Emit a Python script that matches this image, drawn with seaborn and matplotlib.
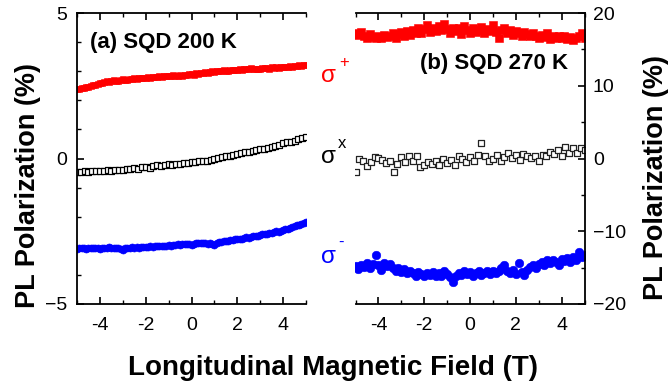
import numpy as np
import pandas as pd
import matplotlib
matplotlib.use("Agg")
import matplotlib.pyplot as plt
from matplotlib.ticker import MultipleLocator
import seaborn as sns

sns.set_style("ticks")
plt.rcParams['font.family'] = ['Liberation Sans', 'DejaVu Sans']
plt.rcParams['text.color'] = 'black'
plt.rcParams['axes.labelcolor'] = 'black'
plt.rcParams['xtick.color'] = 'black'
plt.rcParams['ytick.color'] = 'black'

# ---------------- data ----------------
# (a) SQD 200 K
field_a_dense = np.linspace(-5, 5, 101)
field_a_sparse = np.linspace(-5, 5, 61)
a_sigma_plus = [
    2.39, 2.40, 2.41, 2.43, 2.44, 2.46, 2.49, 2.51, 2.54, 2.56,
    2.60, 2.58, 2.62, 2.65, 2.63, 2.66, 2.69, 2.65, 2.68, 2.70,
    2.72, 2.70, 2.71, 2.74, 2.72, 2.75, 2.73, 2.76, 2.77, 2.75,
    2.78, 2.80, 2.77, 2.79, 2.81, 2.80, 2.82, 2.79, 2.83, 2.82,
    2.84, 2.83, 2.86, 2.84, 2.82, 2.87, 2.85, 2.88, 2.86, 2.89,
    2.90, 2.88, 2.93, 2.92, 2.95, 2.93, 2.96, 2.94, 2.97, 2.99,
    2.98, 3.00, 2.99, 3.01, 3.03, 3.00, 3.02, 3.04, 3.03, 3.05,
    3.04, 3.06, 3.05, 3.07, 3.06, 3.08, 3.10, 3.07, 3.09, 3.08,
    3.09, 3.11, 3.10, 3.12, 3.09, 3.13, 3.11, 3.14, 3.12, 3.15,
    3.15, 3.13, 3.16, 3.18, 3.16, 3.19, 3.17, 3.20, 3.19, 3.22, 3.23]
a_sigma_x = [
    -0.45, -0.45, -0.44, -0.45, -0.43, -0.44, -0.42, -0.43, -0.41, -0.42,
    -0.40, -0.41, -0.39, -0.36, -0.37, -0.33, -0.35, -0.30, -0.28, -0.31,
    -0.26, -0.24, -0.27, -0.22, -0.20, -0.22, -0.18, -0.19, -0.16, -0.15,
    -0.13, -0.12, -0.10, -0.08, -0.07, -0.04, -0.03, 0.01, 0.04, 0.07,
    0.09, 0.12, 0.15, 0.19, 0.21, 0.24, 0.26, 0.29, 0.32, 0.34,
    0.37, 0.41, 0.44, 0.47, 0.52, 0.55, 0.58, 0.61, 0.66, 0.69, 0.74]
a_sigma_minus = [
    -3.10, -3.08, -3.09, -3.07, -3.10, -3.08, -3.06, -3.09, -3.07, -3.08,
    -3.12, -3.08, -3.06, -3.08, -3.05, -3.07, -3.06, -3.09, -3.07, -3.10,
    -3.15, -3.09, -3.06, -3.08, -3.05, -3.06, -3.04, -3.06, -3.03, -3.05,
    -3.03, -3.04, -3.02, -3.03, -3.01, -3.02, -3.00, -3.02, -2.99, -3.00,
    -2.98, -3.00, -2.96, -2.97, -2.95, -2.96, -2.94, -2.95, -2.93, -2.94,
    -2.97, -2.93, -2.91, -2.92, -2.90, -2.92, -2.91, -2.93, -2.92, -2.94,
    -2.96, -2.92, -2.88, -2.86, -2.84, -2.85, -2.82, -2.80, -2.81, -2.78,
    -2.77, -2.75, -2.76, -2.73, -2.71, -2.72, -2.69, -2.67, -2.68, -2.65,
    -2.62, -2.60, -2.61, -2.58, -2.55, -2.56, -2.53, -2.50, -2.51, -2.48,
    -2.45, -2.43, -2.41, -2.38, -2.36, -2.33, -2.30, -2.27, -2.25, -2.21, -2.19]

# (b) SQD 270 K
field_b_dense = np.linspace(-5, 5, 81)
field_b_sparse = np.linspace(-5, 5, 61)
b_sigma_plus = [
    17.3, 17.0, 17.4, 16.9, 16.6, 17.1, 16.7, 16.5, 16.9, 16.6,
    17.0, 16.7, 16.9, 17.2, 16.6, 17.1, 17.4, 16.8, 17.5, 17.0,
    17.6, 17.2, 17.9, 17.3, 17.8, 18.3, 17.4, 17.9, 17.5, 18.2,
    17.6, 18.5, 17.8, 17.2, 18.0, 17.5, 17.9, 17.1, 18.2, 17.6,
    17.3, 17.9, 17.4, 17.7, 18.1, 17.2, 17.8, 17.5, 18.3, 17.4,
    16.6, 17.6, 17.9, 17.3, 17.7, 17.0, 17.5, 17.2, 16.9, 17.4,
    17.1, 16.8, 17.3, 16.9, 16.5, 17.0, 16.7, 17.2, 16.4, 16.8,
    16.6, 16.9, 16.5, 16.8, 16.4, 16.7, 16.3, 16.6, 16.9, 17.3, 16.5]
b_sigma_x = [
    -1.9, -0.1, -0.3, -1.0, -0.5, 0.2, 0.1, -0.2, -0.6, -0.4,
    -1.8, -0.8, 0.2, -0.5, 0.4, -0.3, 0.3, -1.2, -0.9, -0.5,
    -0.7, -0.3, -0.9, 0.0, -0.6, -0.2, -0.9, 0.4, -0.1, -0.5,
    0.2, -0.3, 0.5, 2.1, 0.3, -0.4, -0.1, 0.5, -0.3, 0.2,
    0.8, 0.1, 0.5, -0.2, 0.6, 0.3, 0.1, 0.4, -0.4, 0.5,
    0.3, 0.9, 0.6, 1.2, 0.4, 1.6, 0.8, 1.5, 0.7, 1.4, 1.1]
b_sigma_minus = [
    -14.8, -15.2, -14.6, -14.9, -14.4, -15.0, -14.5, -13.3, -14.7, -15.3,
    -14.4, -14.8, -14.5, -15.0, -15.4, -15.1, -15.6, -15.2, -15.8, -15.4,
    -15.7, -16.1, -15.6, -15.9, -16.2, -15.7, -16.0, -15.6, -16.2, -15.8,
    -16.1, -15.5, -15.9, -16.3, -17.0, -16.2, -15.7, -16.0, -15.5, -15.9,
    -15.6, -16.1, -15.8, -15.4, -16.0, -15.7, -15.5, -15.9, -15.4, -15.8,
    -15.5, -15.1, -14.6, -15.4, -15.7, -15.3, -15.9, -14.4, -15.6, -16.0,
    -15.3, -14.9, -14.6, -15.0, -14.5, -14.2, -14.6, -14.0, -14.3, -13.9,
    -14.2, -14.6, -13.8, -14.1, -13.7, -14.2, -13.6, -13.9, -12.9, -13.5, -13.3]

x_ticks = [-4, -2, 0, 2, 4]
x_tick_labels = ["-4", "-2", "0", "2", "4"]

# ---------------- figure ----------------
fig = plt.figure(figsize=(6.72, 3.88), dpi=100)
axa = fig.add_axes([77 / 672, 84 / 388, 229 / 672, 291 / 388])
axb = fig.add_axes([355.5 / 672, 84 / 388, 229 / 672, 291 / 388])

RED, BLUE, BLACK = "#FF0000", "#0000FF", "#000000"

# panel (a)
sns.scatterplot(x=field_a_dense, y=a_sigma_plus, ax=axa, marker="s", s=20,
                color=RED, edgecolor=RED, linewidth=0.4)
sns.scatterplot(x=field_a_sparse, y=a_sigma_x, ax=axa, marker="s", s=14,
                facecolor="white", edgecolor=BLACK, linewidth=0.9)
sns.scatterplot(x=field_a_dense, y=a_sigma_minus, ax=axa, marker="o", s=26,
                color=BLUE, edgecolor=BLUE, linewidth=0.4)

# panel (b)
sns.scatterplot(x=field_b_dense, y=b_sigma_plus, ax=axb, marker="s", s=28,
                color=RED, edgecolor=RED, linewidth=0.4)
sns.scatterplot(x=field_b_sparse, y=b_sigma_x, ax=axb, marker="s", s=20,
                facecolor="white", edgecolor="#222222", linewidth=0.9)
sns.scatterplot(x=field_b_dense, y=b_sigma_minus, ax=axb, marker="o", s=38,
                color=BLUE, edgecolor=BLUE, linewidth=0.4)

for ax in (axa, axb):
    ax.set_xlim(-5, 5)
    ax.set_xticks(x_ticks)
    ax.set_xticklabels(x_tick_labels)
    ax.xaxis.set_minor_locator(MultipleLocator(1))
    ax.set_xlabel("")
    ax.set_ylabel("")
    for sp in ax.spines.values():
        sp.set_linewidth(1.3)
        sp.set_color("black")
    ax.tick_params(axis="both", which="major", direction="in", length=5,
                   width=1.2, labelsize=14, colors="black")
    ax.tick_params(axis="both", which="minor", direction="in", length=3,
                   width=1.0)
    ax.tick_params(axis="x", which="both", top=True, pad=9)
    ax.set_facecolor("white")

axa.set_ylim(-5, 5)
axa.set_yticks([-5, 0, 5])
axa.yaxis.set_minor_locator(MultipleLocator(1))
axa.spines["right"].set_visible(False)
axa.tick_params(axis="y", which="both", left=True, right=False, pad=7)

axb.set_ylim(-20, 20)
axb.set_yticks([-20, -10, 0, 10, 20])
axb.yaxis.set_minor_locator(MultipleLocator(5))
axb.spines["left"].set_visible(False)
axb.yaxis.tick_right()
axb.tick_params(axis="y", which="both", left=False, right=True,
                labelleft=False, labelright=True, pad=6)

axa.text(0.057, 0.897, "(a) SQD 200 K", transform=axa.transAxes,
         fontsize=16, fontweight="bold", ha="left", va="center", color="black")
axb.text(0.928, 0.825, "(b) SQD 270 K", transform=axb.transAxes,
         fontsize=16, fontweight="bold", ha="right", va="center", color="black")

# sigma labels in the gap
def sigma_label(xp, yp, sup, color, sxp, syp):
    fig.text(xp / 672, 1 - yp / 388, "σ", color=color, fontsize=17.5,
             ha="left", va="center")
    fig.text(sxp / 672, 1 - syp / 388, sup, color=color,
             fontsize=12, ha="center", va="center")

sigma_label(321, 76, "+", RED, 344, 62)
sigma_label(321, 157, "x", BLACK, 342, 143)
sigma_label(321, 257, "-", BLUE, 341, 242)

fig.text(28 / 672, 1 - 186 / 388, "PL Polarization (%)", rotation=90,
         fontsize=19.5, fontweight="bold", ha="center", va="center", color="black")
fig.text(656 / 672, 1 - 178 / 388, "PL Polarization (%)", rotation=90,
         fontsize=19.5, fontweight="bold", ha="center", va="center", color="black")
fig.text(333 / 672, 1 - 368 / 388, "Longitudinal Magnetic Field (T)",
         fontsize=20, fontweight="bold", ha="center", va="center", color="black")

fig.savefig("out.png", dpi=100, facecolor="white")
